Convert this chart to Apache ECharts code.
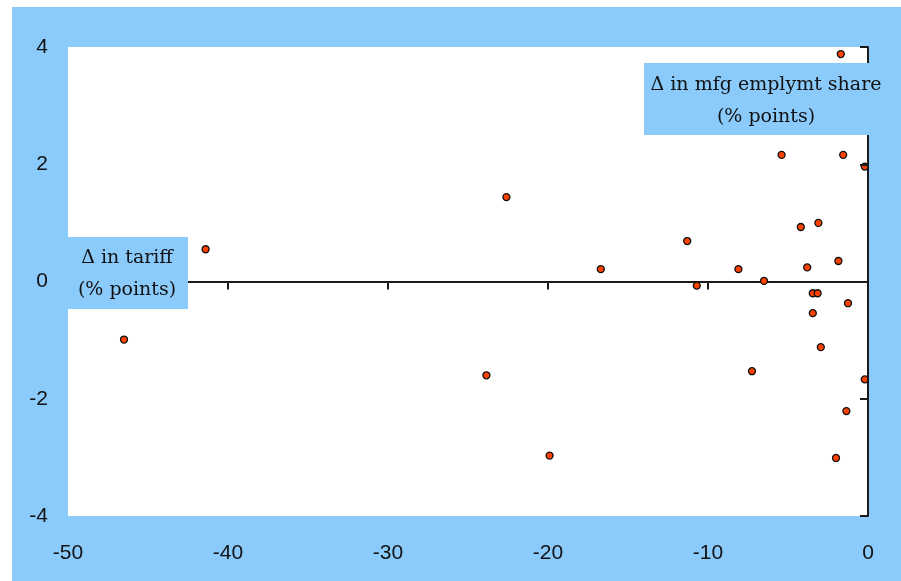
<!DOCTYPE html>
<html>
<head>
<meta charset="utf-8">
<script src="https://cdn.jsdelivr.net/npm/echarts@6/dist/echarts.min.js"></script>
<style>
  html, body { margin: 0; padding: 0; background: #ffffff; }
  #wrap { position: relative; width: 901px; height: 581px; background: #ffffff; overflow: hidden; }
  #bluebg { position: absolute; left: 12px; top: 7px; right: 0; bottom: 0; background: #8BCBFC; }
  #chart { position: absolute; left: 0; top: 0; width: 901px; height: 581px; }
</style>
</head>
<body>
<div id="wrap">
  <div id="bluebg"></div>
  <div id="chart"></div>
</div>
<script>
// Change in tariff (% points), x values
const tariffChange = [-1.7, -5.4, -1.55, -0.2, -22.6, -41.4, -11.3, -16.7, -8.1, -10.7,
  -6.5, -4.2, -3.1, -3.8, -1.85, -3.45, -3.15, -1.25, -3.45, -2.95,
  -7.25, -0.2, -1.35, -2.0, -46.5, -23.85, -19.9];
// Change in manufacturing employment share (% points), y values
const mfgShareChange = [3.88, 2.16, 2.16, 1.96, 1.44, 0.55, 0.69, 0.21, 0.21, -0.07,
  0.01, 0.93, 1.0, 0.24, 0.35, -0.2, -0.2, -0.37, -0.54, -1.12,
  -1.53, -1.67, -2.21, -3.01, -0.99, -1.6, -2.97];
const xTicks = { min: -50, max: 0, interval: 10 };
const yTicks = { min: -4, max: 4, interval: 2 };
const yAxisTitle = ['\u0394 in mfg emplymt share', '(% points)'];
const xAxisTitle = ['\u0394 in tariff', '(% points)'];

const points = tariffChange.map((x, i) => [x, mfgShareChange[i]]);
const BLUE = '#8BCBFC';
const AXIS = '#1a1a1a';
const labelFont = 'Liberation Sans';
const serif = '"DejaVu Serif", serif';

const chart = echarts.init(document.getElementById('chart'), null, { renderer: 'canvas' });
chart.setOption({
  backgroundColor: 'transparent',
  animation: false,
  grid: { left: 68, top: 47, width: 800, height: 469, show: true, backgroundColor: '#ffffff', borderWidth: 0 },
  xAxis: [
    {
      type: 'value', position: 'bottom', min: xTicks.min, max: xTicks.max, interval: xTicks.interval,
      axisLine: { show: false, onZero: false }, axisTick: { show: false }, splitLine: { show: false },
      axisLabel: { fontSize: 21, fontFamily: labelFont, color: '#111', margin: 27 }
    },
    {
      type: 'value', position: 'top', min: xTicks.min, max: xTicks.max, interval: xTicks.interval,
      axisLine: { show: true, onZero: true, onZeroAxisIndex: 0, lineStyle: { color: AXIS, width: 2 } },
      axisTick: { show: true, inside: true, length: 8, lineStyle: { color: AXIS, width: 2 } },
      axisLabel: { show: false }, splitLine: { show: false }
    }
  ],
  yAxis: [
    {
      type: 'value', position: 'left', min: yTicks.min, max: yTicks.max, interval: yTicks.interval,
      axisLine: { show: false, onZero: false }, axisTick: { show: false }, splitLine: { show: false },
      axisLabel: { fontSize: 21, fontFamily: labelFont, color: '#111', margin: 20 }
    },
    {
      type: 'value', position: 'right', min: yTicks.min, max: yTicks.max, interval: yTicks.interval, z: 5,
      axisLine: { show: true, onZero: false, lineStyle: { color: AXIS, width: 2 } },
      axisTick: { show: true, inside: true, length: 8, lineStyle: { color: AXIS, width: 2 } },
      axisLabel: { show: false }, splitLine: { show: false }
    }
  ],
  series: [{
    type: 'scatter', xAxisIndex: 0, yAxisIndex: 0, data: points,
    symbol: 'circle', symbolSize: 7,
    itemStyle: { color: '#FF4200', borderColor: '#111', borderWidth: 1.3, opacity: 1 }
  }],
  graphic: [
    { type: 'rect', z: 100, shape: { x: 644, y: 63, width: 244, height: 72 }, style: { fill: BLUE } },
    { type: 'text', z: 101, x: 766, y: 101,
      style: { text: yAxisTitle.join('\n'), font: '19px ' + serif, fill: '#111', align: 'center', verticalAlign: 'middle', lineHeight: 32 } },
    { type: 'rect', z: 100, shape: { x: 60, y: 237, width: 128, height: 72 }, style: { fill: BLUE } },
    { type: 'text', z: 101, x: 127, y: 274,
      style: { text: xAxisTitle.join('\n'), font: '19px ' + serif, fill: '#111', align: 'center', verticalAlign: 'middle', lineHeight: 32 } }
  ]
});
</script>
</body>
</html>
